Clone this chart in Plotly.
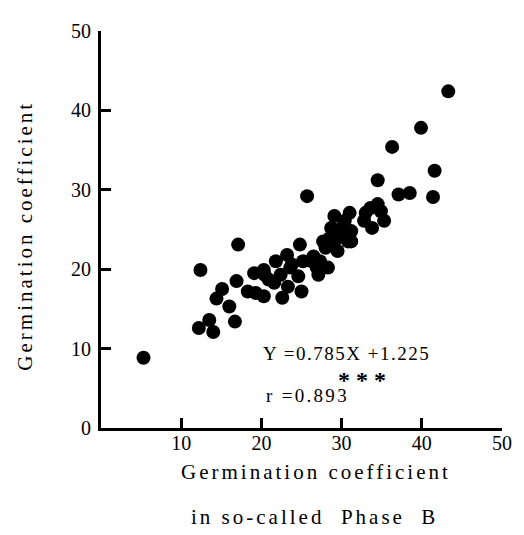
import plotly.graph_objects as go

# Germination coefficient in so-called Phase B (x) vs germination coefficient (y)
phase_b = [5.3, 43.3, 39.9, 36.3, 41.6, 41.4, 38.5, 37.1, 34.5, 25.7, 31.0, 17.1,
           12.4, 12.2, 14.0, 13.5, 16.7, 14.4, 15.1, 16.0, 16.9, 18.3, 19.3, 19.1,
           20.3, 20.3, 20.9, 21.8, 21.6, 22.6, 23.2, 23.3, 23.6, 24.6, 24.8, 25.0,
           25.2, 26.5, 27.1, 27.3, 28.3, 27.7, 28.5, 29.1, 29.5, 30.0, 30.8, 31.2,
           28.7, 30.4, 33.0, 34.5, 35.3, 33.8, 32.8, 34.9, 33.6, 30.4, 29.1, 28.0,
           31.2, 29.6, 26.9, 26.3, 22.4, 23.8, 20.4]
germination = [8.85, 42.4, 37.8, 35.4, 32.4, 29.1, 29.6, 29.4, 31.2, 29.2, 27.1, 23.1,
               19.9, 12.6, 12.1, 13.6, 13.4, 16.3, 17.5, 15.3, 18.5, 17.2, 17.0, 19.5,
               19.9, 16.6, 18.7, 21.0, 18.3, 16.4, 21.8, 17.8, 20.2, 19.1, 23.1, 17.2,
               21.0, 21.6, 19.3, 21.0, 20.2, 23.5, 23.9, 26.7, 22.3, 25.2, 23.5, 24.8,
               25.2, 26.1, 27.1, 28.2, 26.1, 25.2, 26.1, 27.3, 27.7, 24.0, 23.5, 22.7,
               23.5, 24.4, 20.2, 21.0, 19.3, 20.6, 19.3]

x_ticks = [10, 20, 30, 40, 50]
y_ticks = [0, 10, 20, 30, 40, 50]
equation = "Y =0.785X +1.225"
r_text = "r =0.893"
signif = "* * *"
x_title_1 = "Germination coefficient"
x_title_2 = "in so-called  Phase  B"
y_title = "Germination coefficient"

FONT = "Liberation Serif"

fig = go.Figure()
fig.add_trace(go.Scatter(
    x=phase_b, y=germination, mode="markers",
    marker=dict(size=14, color="black", line=dict(width=0)),
    showlegend=False, hoverinfo="skip",
))

axis_common = dict(
    showgrid=False, zeroline=False, showline=True, linecolor="black", linewidth=3,
    ticks="inside", ticklen=10, tickwidth=3, tickcolor="black",
    tickfont=dict(family=FONT, size=20, color="black"),
    range=[0, 50], fixedrange=True,
)

fig.update_xaxes(**axis_common, tickmode="array", tickvals=x_ticks,
                 ticktext=[str(v) for v in x_ticks], ticklabelstandoff=-5)
fig.update_yaxes(**axis_common, tickmode="array", tickvals=y_ticks,
                 ticktext=[str(v) for v in y_ticks], ticklabelstandoff=3)

def ann(text, x, y, xref="paper", yref="paper", xanchor="center", yanchor="middle",
        size=20, angle=0, spacing=0, weight="normal"):
    if spacing:
        text = f'<span style="letter-spacing:{spacing}px">{text}</span>'
    fig.add_annotation(text=text, x=x, y=y, xref=xref, yref=yref,
                       xanchor=xanchor, yanchor=yanchor, showarrow=False,
                       textangle=angle,
                       font=dict(family=FONT, size=size, color="black", weight=weight))

ann(x_title_1, 0.535, -0.11, size=21, spacing=3)
ann(x_title_2, 0.532, -0.223, size=21, spacing=3)
ann(y_title, -0.189, 0.485, size=21, angle=-90, spacing=3)
ann(equation, 20.0, 9.4, xref="x", yref="y", xanchor="left", size=19, spacing=1.5)
ann(r_text, 20.3, 4.1, xref="x", yref="y", xanchor="left", size=19, spacing=2.3)
ann(signif, 32.5, 6.0, xref="x", yref="y", size=24, weight="bold")

# the page adds an 8px body margin, so the figure is 8px smaller and margins shifted
fig.update_layout(
    width=516, height=527,
    margin=dict(l=93, r=16, t=16, b=107),
    paper_bgcolor="white", plot_bgcolor="white",
    font=dict(family=FONT, color="black"),
)

fig.write_html("out.html")
